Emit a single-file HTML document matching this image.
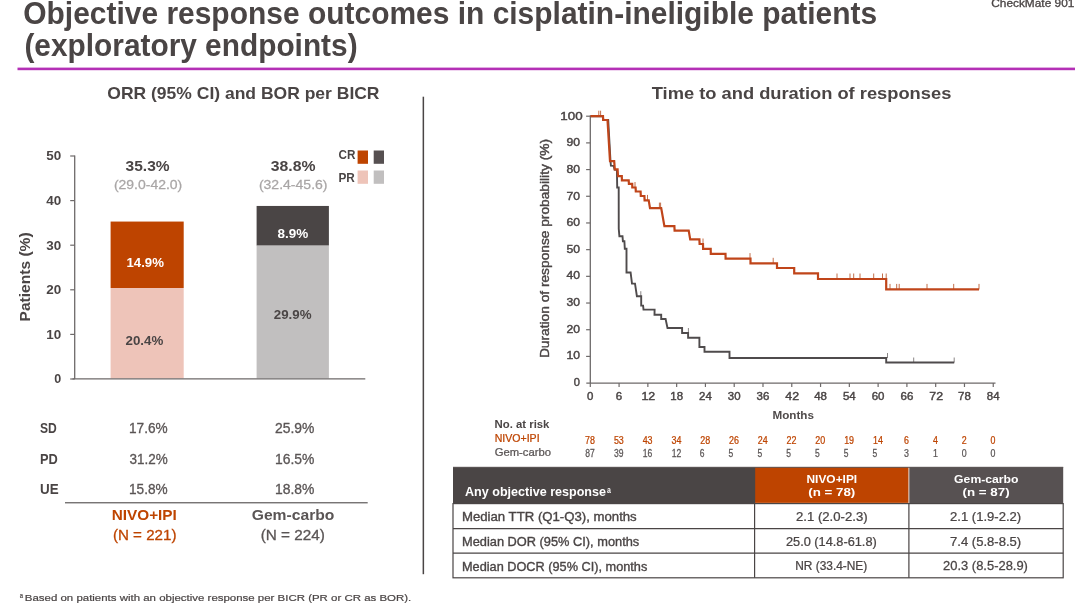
<!DOCTYPE html>
<html><head><meta charset="utf-8"><title>Objective response outcomes</title>
<style>
html,body{margin:0;padding:0;background:#ffffff;}
body{width:1080px;height:608px;overflow:hidden;}
svg{display:block;font-family:"Liberation Sans",sans-serif;will-change:transform;}
</style></head>
<body>
<svg width="1080" height="608" viewBox="0 0 1080 608">
<rect x="0" y="0" width="1080" height="608" fill="#ffffff"/>
<text transform="translate(23.22,23.90) scale(0.9827,1)" font-size="30.5" font-weight="bold" fill="#4a4545">Objective response outcomes in cisplatin-ineligible patients</text>
<text transform="translate(24.42,55.50) scale(0.9789,1)" font-size="30.5" font-weight="bold" fill="#4a4545">(exploratory endpoints)</text>
<text transform="translate(991.20,6.90) scale(1.1210,1)" font-size="10.6" fill="#4a4545" stroke="#4a4545" stroke-width="0.3">CheckMate 901</text>
<rect x="17.5" y="67.6" width="1057.5" height="2.6" fill="#b430b6"/>
<text transform="translate(107.30,98.70) scale(1.0124,1)" font-size="17.3" font-weight="bold" fill="#4a4545">ORR (95% CI) and BOR per BICR</text>
<text transform="translate(651.70,98.70) scale(1.0591,1)" font-size="17.3" font-weight="bold" fill="#4a4545">Time to and duration of responses</text>
<rect x="422.6" y="96.7" width="1.5" height="477.5" fill="#4a4545"/>
<rect x="110.6" y="221.56" width="73.1" height="66.45" fill="#be4400"/>
<rect x="110.6" y="288.02" width="73.1" height="90.38" fill="#eec4b9"/>
<rect x="256.6" y="205.95" width="72.3" height="39.69" fill="#4a4545"/>
<rect x="256.6" y="245.65" width="72.3" height="132.75" fill="#c1bfbf"/>
<path d="M74.7 155.40 V379.4 M72.5 378.8 H365.3" stroke="#6e6a6a" stroke-width="1.3" fill="none"/>
<path d="M70.2 379.00 H74.7" stroke="#6e6a6a" stroke-width="1.2"/>
<text transform="translate(54.30,383.45) scale(1.0000,1)" font-size="12.5" font-weight="bold" fill="#4a4545">0</text>
<path d="M70.2 334.40 H74.7" stroke="#6e6a6a" stroke-width="1.2"/>
<text transform="translate(46.30,338.85) scale(1.0751,1)" font-size="12.5" font-weight="bold" fill="#4a4545">10</text>
<path d="M70.2 289.80 H74.7" stroke="#6e6a6a" stroke-width="1.2"/>
<text transform="translate(46.30,294.25) scale(1.0751,1)" font-size="12.5" font-weight="bold" fill="#4a4545">20</text>
<path d="M70.2 245.20 H74.7" stroke="#6e6a6a" stroke-width="1.2"/>
<text transform="translate(46.30,249.65) scale(1.0751,1)" font-size="12.5" font-weight="bold" fill="#4a4545">30</text>
<path d="M70.2 200.60 H74.7" stroke="#6e6a6a" stroke-width="1.2"/>
<text transform="translate(46.30,205.05) scale(1.0751,1)" font-size="12.5" font-weight="bold" fill="#4a4545">40</text>
<path d="M70.2 156.00 H74.7" stroke="#6e6a6a" stroke-width="1.2"/>
<text transform="translate(46.30,160.45) scale(1.0751,1)" font-size="12.5" font-weight="bold" fill="#4a4545">50</text>
<text transform="translate(29.90,276.80) rotate(-90) translate(-44.60,0.00) scale(1.0662,1)" font-size="14.6" font-weight="bold" fill="#4a4545">Patients (%)</text>
<text transform="translate(125.60,170.50) scale(1.0932,1)" font-size="14.2" font-weight="bold" fill="#4a4545">35.3%</text>
<text transform="translate(113.90,189.10) scale(1.1013,1)" font-size="12.7" fill="#a9a6a6" stroke="#a9a6a6" stroke-width="0.25">(29.0-42.0)</text>
<text transform="translate(270.80,170.50) scale(1.1129,1)" font-size="14.2" font-weight="bold" fill="#4a4545">38.8%</text>
<text transform="translate(258.90,189.10) scale(1.1045,1)" font-size="12.7" fill="#a9a6a6" stroke="#a9a6a6" stroke-width="0.25">(32.4-45.6)</text>
<text transform="translate(126.50,266.50) scale(1.0160,1)" font-size="13" font-weight="bold" fill="#ffffff">14.9%</text>
<text transform="translate(125.50,345.00) scale(1.0254,1)" font-size="13" font-weight="bold" fill="#4a4545">20.4%</text>
<text transform="translate(277.50,237.50) scale(1.0392,1)" font-size="13" font-weight="bold" fill="#ffffff">8.9%</text>
<text transform="translate(273.75,318.75) scale(1.0254,1)" font-size="13" font-weight="bold" fill="#4a4545">29.9%</text>
<text transform="translate(338.50,159.20) scale(0.9508,1)" font-size="12.3" font-weight="bold" fill="#4a4545">CR</text>
<text transform="translate(338.50,181.90) scale(0.9592,1)" font-size="12.3" font-weight="bold" fill="#4a4545">PR</text>
<rect x="357.6" y="150.5" width="10.4" height="13.3" fill="#be4400"/>
<rect x="373.7" y="150.5" width="10.3" height="13.3" fill="#565051"/>
<rect x="357.6" y="170.5" width="10.4" height="13.3" fill="#eec4b9"/>
<rect x="373.7" y="170.5" width="10.3" height="13.3" fill="#c1bfbf"/>
<text transform="translate(40.00,433.30) scale(0.8636,1)" font-size="14" font-weight="bold" fill="#4a4545">SD</text>
<text transform="translate(129.02,433.30) scale(0.9752,1)" font-size="14" fill="#5a5555" stroke="#5a5555" stroke-width="0.3">17.6%</text>
<text transform="translate(275.00,433.30) scale(0.9937,1)" font-size="14" fill="#5a5555" stroke="#5a5555" stroke-width="0.3">25.9%</text>
<text transform="translate(40.00,464.30) scale(0.9153,1)" font-size="14" font-weight="bold" fill="#4a4545">PD</text>
<text transform="translate(129.50,464.30) scale(0.9631,1)" font-size="14" fill="#5a5555" stroke="#5a5555" stroke-width="0.3">31.2%</text>
<text transform="translate(275.01,464.30) scale(0.9935,1)" font-size="14" fill="#5a5555" stroke="#5a5555" stroke-width="0.3">16.5%</text>
<text transform="translate(40.00,494.40) scale(0.9576,1)" font-size="14" font-weight="bold" fill="#4a4545">UE</text>
<text transform="translate(129.02,494.40) scale(0.9752,1)" font-size="14" fill="#5a5555" stroke="#5a5555" stroke-width="0.3">15.8%</text>
<text transform="translate(275.01,494.40) scale(0.9935,1)" font-size="14" fill="#5a5555" stroke="#5a5555" stroke-width="0.3">18.8%</text>
<rect x="65" y="502.1" width="302.7" height="1.3" fill="#6a6666"/>
<text transform="translate(111.68,520.00) scale(1.0223,1)" font-size="15" font-weight="bold" fill="#be4400">NIVO+IPI</text>
<text transform="translate(112.90,539.60) scale(1.0103,1)" font-size="15" fill="#be4400" stroke="#be4400" stroke-width="0.3">(N = 221)</text>
<text transform="translate(251.70,520.00) scale(1.0452,1)" font-size="15" font-weight="bold" fill="#5a5555">Gem-carbo</text>
<text transform="translate(260.70,539.60) scale(1.0215,1)" font-size="15" fill="#5a5555" stroke="#5a5555" stroke-width="0.3">(N = 224)</text>
<text transform="translate(19.70,598.40) scale(0.7800,1)" font-size="7.5" fill="#4a4545" stroke="#4a4545" stroke-width="0.2">a</text>
<text transform="translate(24.80,601.10) scale(1.1698,1)" font-size="9.8" fill="#4a4545" stroke="#4a4545" stroke-width="0.2">Based on patients with an objective response per BICR (PR or CR as BOR).</text>
<path d="M590.3 115.6 V383.1 M586.3 383.1 H995.5" stroke="#6e6a6a" stroke-width="1.3" fill="none"/>
<path d="M586.1 356.41 H590.3" stroke="#6e6a6a" stroke-width="1.2"/>
<path d="M586.1 329.72 H590.3" stroke="#6e6a6a" stroke-width="1.2"/>
<path d="M586.1 303.03 H590.3" stroke="#6e6a6a" stroke-width="1.2"/>
<path d="M586.1 276.34 H590.3" stroke="#6e6a6a" stroke-width="1.2"/>
<path d="M586.1 249.65 H590.3" stroke="#6e6a6a" stroke-width="1.2"/>
<path d="M586.1 222.96 H590.3" stroke="#6e6a6a" stroke-width="1.2"/>
<path d="M586.1 196.27 H590.3" stroke="#6e6a6a" stroke-width="1.2"/>
<path d="M586.1 169.58 H590.3" stroke="#6e6a6a" stroke-width="1.2"/>
<path d="M586.1 142.89 H590.3" stroke="#6e6a6a" stroke-width="1.2"/>
<path d="M586.1 116.20 H590.3" stroke="#6e6a6a" stroke-width="1.2"/>
<text transform="translate(573.70,385.90) scale(0.9429,1)" font-size="11.8" fill="#4a4545" stroke="#4a4545" stroke-width="0.45">0</text>
<text transform="translate(566.60,359.28) scale(1.0324,1)" font-size="11.8" fill="#4a4545" stroke="#4a4545" stroke-width="0.45">10</text>
<text transform="translate(566.60,332.66) scale(1.0324,1)" font-size="11.8" fill="#4a4545" stroke="#4a4545" stroke-width="0.45">20</text>
<text transform="translate(566.60,306.04) scale(1.0324,1)" font-size="11.8" fill="#4a4545" stroke="#4a4545" stroke-width="0.45">30</text>
<text transform="translate(566.60,279.42) scale(1.0324,1)" font-size="11.8" fill="#4a4545" stroke="#4a4545" stroke-width="0.45">40</text>
<text transform="translate(566.60,252.80) scale(1.0324,1)" font-size="11.8" fill="#4a4545" stroke="#4a4545" stroke-width="0.45">50</text>
<text transform="translate(566.60,226.18) scale(1.0324,1)" font-size="11.8" fill="#4a4545" stroke="#4a4545" stroke-width="0.45">60</text>
<text transform="translate(566.60,199.56) scale(1.0324,1)" font-size="11.8" fill="#4a4545" stroke="#4a4545" stroke-width="0.45">70</text>
<text transform="translate(566.60,172.94) scale(1.0324,1)" font-size="11.8" fill="#4a4545" stroke="#4a4545" stroke-width="0.45">80</text>
<text transform="translate(566.60,146.32) scale(1.0324,1)" font-size="11.8" fill="#4a4545" stroke="#4a4545" stroke-width="0.45">90</text>
<text transform="translate(560.30,119.70) scale(1.1331,1)" font-size="11.8" fill="#4a4545" stroke="#4a4545" stroke-width="0.45">100</text>
<path d="M590.30 383.1 V387" stroke="#6e6a6a" stroke-width="1.2"/>
<text transform="translate(586.90,400.00) scale(0.9714,1)" font-size="11.8" fill="#4a4545" stroke="#4a4545" stroke-width="0.45">0</text>
<path d="M619.08 383.1 V387" stroke="#6e6a6a" stroke-width="1.2"/>
<text transform="translate(615.68,400.00) scale(0.9714,1)" font-size="11.8" fill="#4a4545" stroke="#4a4545" stroke-width="0.45">6</text>
<path d="M647.86 383.1 V387" stroke="#6e6a6a" stroke-width="1.2"/>
<text transform="translate(641.46,400.00) scale(1.0509,1)" font-size="11.8" fill="#4a4545" stroke="#4a4545" stroke-width="0.45">12</text>
<path d="M676.65 383.1 V387" stroke="#6e6a6a" stroke-width="1.2"/>
<text transform="translate(670.25,400.00) scale(0.9734,1)" font-size="11.8" fill="#4a4545" stroke="#4a4545" stroke-width="0.45">18</text>
<path d="M705.43 383.1 V387" stroke="#6e6a6a" stroke-width="1.2"/>
<text transform="translate(699.03,400.00) scale(0.9734,1)" font-size="11.8" fill="#4a4545" stroke="#4a4545" stroke-width="0.45">24</text>
<path d="M734.21 383.1 V387" stroke="#6e6a6a" stroke-width="1.2"/>
<text transform="translate(727.81,400.00) scale(0.9734,1)" font-size="11.8" fill="#4a4545" stroke="#4a4545" stroke-width="0.45">30</text>
<path d="M762.99 383.1 V387" stroke="#6e6a6a" stroke-width="1.2"/>
<text transform="translate(756.59,400.00) scale(0.9734,1)" font-size="11.8" fill="#4a4545" stroke="#4a4545" stroke-width="0.45">36</text>
<path d="M791.77 383.1 V387" stroke="#6e6a6a" stroke-width="1.2"/>
<text transform="translate(785.37,400.00) scale(1.0509,1)" font-size="11.8" fill="#4a4545" stroke="#4a4545" stroke-width="0.45">42</text>
<path d="M820.56 383.1 V387" stroke="#6e6a6a" stroke-width="1.2"/>
<text transform="translate(814.16,400.00) scale(0.9734,1)" font-size="11.8" fill="#4a4545" stroke="#4a4545" stroke-width="0.45">48</text>
<path d="M849.34 383.1 V387" stroke="#6e6a6a" stroke-width="1.2"/>
<text transform="translate(842.94,400.00) scale(0.9734,1)" font-size="11.8" fill="#4a4545" stroke="#4a4545" stroke-width="0.45">54</text>
<path d="M878.12 383.1 V387" stroke="#6e6a6a" stroke-width="1.2"/>
<text transform="translate(871.72,400.00) scale(0.9734,1)" font-size="11.8" fill="#4a4545" stroke="#4a4545" stroke-width="0.45">60</text>
<path d="M906.90 383.1 V387" stroke="#6e6a6a" stroke-width="1.2"/>
<text transform="translate(900.50,400.00) scale(0.9734,1)" font-size="11.8" fill="#4a4545" stroke="#4a4545" stroke-width="0.45">66</text>
<path d="M935.68 383.1 V387" stroke="#6e6a6a" stroke-width="1.2"/>
<text transform="translate(929.28,400.00) scale(1.0509,1)" font-size="11.8" fill="#4a4545" stroke="#4a4545" stroke-width="0.45">72</text>
<path d="M964.47 383.1 V387" stroke="#6e6a6a" stroke-width="1.2"/>
<text transform="translate(958.07,400.00) scale(0.9734,1)" font-size="11.8" fill="#4a4545" stroke="#4a4545" stroke-width="0.45">78</text>
<path d="M993.25 383.1 V387" stroke="#6e6a6a" stroke-width="1.2"/>
<text transform="translate(986.85,400.00) scale(0.9734,1)" font-size="11.8" fill="#4a4545" stroke="#4a4545" stroke-width="0.45">84</text>
<text transform="translate(772.40,419.10) scale(0.9912,1)" font-size="11.8" font-weight="bold" fill="#504b4b">Months</text>
<text transform="translate(548.80,248.40) rotate(-90) translate(-109.70,0.00) scale(1.1461,1)" font-size="12" fill="#4a4545" stroke="#4a4545" stroke-width="0.4">Duration of response probability (%)</text>
<path d="M640.80 296.20 v-5" stroke="#8a8686" stroke-width="1"/>
<path d="M688.40 333.00 v-5" stroke="#8a8686" stroke-width="1"/>
<path d="M887.50 358.00 v-5" stroke="#8a8686" stroke-width="1"/>
<path d="M913.70 362.50 v-5" stroke="#8a8686" stroke-width="1"/>
<path d="M954.20 362.50 v-5" stroke="#8a8686" stroke-width="1"/>
<path d="M590.50 116.20 L603.00 116.20 L603.20 120.00 L608.20 120.00 L610.50 161.20 L610.90 165.60 L613.60 165.80 L614.60 169.60 L616.90 169.80 L617.20 187.50 L618.70 187.50 L618.75 228.80 L619.40 236.20 L622.50 236.20 L622.90 241.20 L624.40 241.20 L624.80 248.80 L626.50 248.80 L626.50 272.50 L630.60 272.50 L632.00 283.60 L635.00 283.60 L636.90 296.20 L641.20 296.20 L641.20 305.60 L643.10 305.60 L643.50 309.60 L654.60 309.60 L654.50 314.80 L661.20 314.80 L661.20 319.00 L665.60 319.00 L667.50 328.00 L682.10 328.00 L682.10 333.00 L688.10 333.00 L688.10 337.80 L699.40 337.80 L699.40 347.00 L704.50 347.00 L704.50 351.80 L729.50 351.80 L729.50 358.00 L886.20 358.00 L886.20 362.50 L954.20 362.50" stroke="#4f4b4c" stroke-width="1.9" fill="none" stroke-linejoin="miter"/>
<path d="M598.80 116.20 v-5.5" stroke="#c26f4a" stroke-width="1"/>
<path d="M600.60 116.20 v-5.5" stroke="#c26f4a" stroke-width="1"/>
<path d="M635.00 187.50 v-5.5" stroke="#c26f4a" stroke-width="1"/>
<path d="M647.50 200.40 v-5.5" stroke="#c26f4a" stroke-width="1"/>
<path d="M659.40 208.10 v-5.5" stroke="#c26f4a" stroke-width="1"/>
<path d="M660.60 208.10 v-5.5" stroke="#c26f4a" stroke-width="1"/>
<path d="M703.00 244.00 v-5.5" stroke="#c26f4a" stroke-width="1"/>
<path d="M750.00 258.60 v-5.5" stroke="#c26f4a" stroke-width="1"/>
<path d="M773.20 263.30 v-5.5" stroke="#c26f4a" stroke-width="1"/>
<path d="M837.00 279.00 v-5.5" stroke="#c26f4a" stroke-width="1"/>
<path d="M850.00 279.00 v-5.5" stroke="#c26f4a" stroke-width="1"/>
<path d="M853.70 279.00 v-5.5" stroke="#c26f4a" stroke-width="1"/>
<path d="M860.00 279.00 v-5.5" stroke="#c26f4a" stroke-width="1"/>
<path d="M873.70 279.00 v-5.5" stroke="#c26f4a" stroke-width="1"/>
<path d="M882.50 279.00 v-5.5" stroke="#c26f4a" stroke-width="1"/>
<path d="M886.20 279.00 v-5.5" stroke="#c26f4a" stroke-width="1"/>
<path d="M890.00 289.40 v-5.5" stroke="#c26f4a" stroke-width="1"/>
<path d="M896.70 289.40 v-5.5" stroke="#c26f4a" stroke-width="1"/>
<path d="M899.20 289.40 v-5.5" stroke="#c26f4a" stroke-width="1"/>
<path d="M927.00 289.40 v-5.5" stroke="#c26f4a" stroke-width="1"/>
<path d="M953.70 289.40 v-5.5" stroke="#c26f4a" stroke-width="1"/>
<path d="M979.00 289.40 v-5.5" stroke="#c26f4a" stroke-width="1"/>
<path d="M590.50 116.20 L603.00 116.20 L603.20 120.00 L607.50 120.00 L610.00 161.20 L614.20 161.20 L614.80 169.40 L617.60 169.40 L618.00 176.20 L621.80 176.20 L621.90 180.40 L628.70 180.40 L628.90 183.80 L632.20 183.80 L632.30 187.50 L635.60 187.50 L635.80 191.50 L640.60 191.50 L640.80 196.00 L644.40 196.00 L644.60 200.40 L648.70 200.40 L650.00 208.10 L661.20 208.10 L664.40 226.20 L674.40 226.20 L674.60 230.60 L688.70 230.60 L690.20 239.40 L699.40 239.40 L699.60 244.00 L703.00 244.00 L703.10 248.80 L710.70 248.80 L710.80 253.80 L725.50 253.80 L725.60 258.60 L750.50 258.60 L750.50 263.30 L777.00 263.30 L777.00 268.00 L794.20 268.00 L794.20 273.30 L818.00 273.30 L818.00 279.00 L886.20 279.00 L886.20 289.40 L979.00 289.40" stroke="#c0451a" stroke-width="2.2" fill="none" stroke-linejoin="miter"/>
<text transform="translate(494.50,428.25) scale(1.0527,1)" font-size="10.8" font-weight="bold" fill="#4a4545">No. at risk</text>
<text transform="translate(494.70,442.00) scale(1.0075,1)" font-size="10.5" fill="#be4400" stroke="#be4400" stroke-width="0.25">NIVO+IPI</text>
<text transform="translate(494.70,456.25) scale(1.0735,1)" font-size="10.5" fill="#5a5555" stroke="#5a5555" stroke-width="0.25">Gem-carbo</text>
<text transform="translate(585.10,443.75) scale(0.8744,1)" font-size="10.2" fill="#be4400" stroke="#be4400" stroke-width="0.25">78</text>
<text transform="translate(585.30,457.00) scale(0.8401,1)" font-size="10.2" fill="#5a5555" stroke="#5a5555" stroke-width="0.25">87</text>
<text transform="translate(613.88,443.75) scale(0.8744,1)" font-size="10.2" fill="#be4400" stroke="#be4400" stroke-width="0.25">53</text>
<text transform="translate(614.08,457.00) scale(0.8401,1)" font-size="10.2" fill="#5a5555" stroke="#5a5555" stroke-width="0.25">39</text>
<text transform="translate(642.66,443.75) scale(0.8744,1)" font-size="10.2" fill="#be4400" stroke="#be4400" stroke-width="0.25">43</text>
<text transform="translate(642.86,457.00) scale(0.8401,1)" font-size="10.2" fill="#5a5555" stroke="#5a5555" stroke-width="0.25">16</text>
<text transform="translate(671.45,443.75) scale(0.8744,1)" font-size="10.2" fill="#be4400" stroke="#be4400" stroke-width="0.25">34</text>
<text transform="translate(671.65,457.00) scale(0.8401,1)" font-size="10.2" fill="#5a5555" stroke="#5a5555" stroke-width="0.25">12</text>
<text transform="translate(700.23,443.75) scale(0.8744,1)" font-size="10.2" fill="#be4400" stroke="#be4400" stroke-width="0.25">28</text>
<text transform="translate(699.83,457.00) scale(0.8333,1)" font-size="10.2" fill="#5a5555" stroke="#5a5555" stroke-width="0.25">6</text>
<text transform="translate(729.01,443.75) scale(0.8744,1)" font-size="10.2" fill="#be4400" stroke="#be4400" stroke-width="0.25">26</text>
<text transform="translate(728.61,457.00) scale(0.8333,1)" font-size="10.2" fill="#5a5555" stroke="#5a5555" stroke-width="0.25">5</text>
<text transform="translate(757.79,443.75) scale(0.8744,1)" font-size="10.2" fill="#be4400" stroke="#be4400" stroke-width="0.25">24</text>
<text transform="translate(757.39,457.00) scale(0.8333,1)" font-size="10.2" fill="#5a5555" stroke="#5a5555" stroke-width="0.25">5</text>
<text transform="translate(786.57,443.75) scale(0.8744,1)" font-size="10.2" fill="#be4400" stroke="#be4400" stroke-width="0.25">22</text>
<text transform="translate(786.17,457.00) scale(0.8333,1)" font-size="10.2" fill="#5a5555" stroke="#5a5555" stroke-width="0.25">5</text>
<text transform="translate(815.36,443.75) scale(0.8744,1)" font-size="10.2" fill="#be4400" stroke="#be4400" stroke-width="0.25">20</text>
<text transform="translate(814.96,457.00) scale(0.8333,1)" font-size="10.2" fill="#5a5555" stroke="#5a5555" stroke-width="0.25">5</text>
<text transform="translate(844.14,443.75) scale(0.8744,1)" font-size="10.2" fill="#be4400" stroke="#be4400" stroke-width="0.25">19</text>
<text transform="translate(843.74,457.00) scale(0.8333,1)" font-size="10.2" fill="#5a5555" stroke="#5a5555" stroke-width="0.25">5</text>
<text transform="translate(872.92,443.75) scale(0.8744,1)" font-size="10.2" fill="#be4400" stroke="#be4400" stroke-width="0.25">14</text>
<text transform="translate(872.52,457.00) scale(0.8333,1)" font-size="10.2" fill="#5a5555" stroke="#5a5555" stroke-width="0.25">5</text>
<text transform="translate(904.10,443.75) scale(0.8667,1)" font-size="10.2" fill="#be4400" stroke="#be4400" stroke-width="0.25">6</text>
<text transform="translate(904.10,457.00) scale(0.8667,1)" font-size="10.2" fill="#5a5555" stroke="#5a5555" stroke-width="0.25">3</text>
<text transform="translate(932.88,443.75) scale(0.8667,1)" font-size="10.2" fill="#be4400" stroke="#be4400" stroke-width="0.25">4</text>
<text transform="translate(932.88,457.00) scale(0.8667,1)" font-size="10.2" fill="#5a5555" stroke="#5a5555" stroke-width="0.25">1</text>
<text transform="translate(961.67,443.75) scale(0.8667,1)" font-size="10.2" fill="#be4400" stroke="#be4400" stroke-width="0.25">2</text>
<text transform="translate(961.67,457.00) scale(0.8667,1)" font-size="10.2" fill="#5a5555" stroke="#5a5555" stroke-width="0.25">0</text>
<text transform="translate(990.45,443.75) scale(0.8667,1)" font-size="10.2" fill="#be4400" stroke="#be4400" stroke-width="0.25">0</text>
<text transform="translate(990.45,457.00) scale(0.8667,1)" font-size="10.2" fill="#5a5555" stroke="#5a5555" stroke-width="0.25">0</text>
<rect x="453.0" y="467.0" width="301.6" height="36.60000000000002" fill="#4a4545"/>
<rect x="754.6" y="467.0" width="154.29999999999995" height="36.60000000000002" fill="#be4400"/>
<rect x="908.9" y="467.0" width="154.30000000000007" height="36.60000000000002" fill="#575152"/>
<path d="M908.9 467.0 V503.6" stroke="#f0e4dc" stroke-width="0.9"/>
<path d="M754.6 467.0 V503.6" stroke="#4a4545" stroke-width="1.2"/>
<path d="M453.0 467.3 H1063.2" stroke="#5e5858" stroke-width="1"/>
<path d="M755.2 503.3 H908.9" stroke="#e9cfc2" stroke-width="0.8"/>
<rect x="453.0" y="503.6" width="610.2" height="74.19999999999993" fill="#ffffff" stroke="#4a4545" stroke-width="1.2"/>
<path d="M453.0 528.7 H1063.2 M453.0 553.2 H1063.2 M754.6 503.6 V577.8 M908.9 503.6 V577.8" stroke="#4a4545" stroke-width="1.2" fill="none"/>
<text transform="translate(465.00,496.25) scale(1.0307,1)" font-size="12.2" font-weight="bold" fill="#ffffff">Any objective response</text>
<text transform="translate(606.90,493.00) scale(0.8200,1)" font-size="8.5" font-weight="bold" fill="#ffffff">a</text>
<text transform="translate(806.50,482.60) scale(1.0105,1)" font-size="11.8" font-weight="bold" fill="#ffffff">NIVO+IPI</text>
<text transform="translate(808.20,496.20) scale(1.1319,1)" font-size="11.8" font-weight="bold" fill="#ffffff">(n = 78)</text>
<text transform="translate(954.10,482.60) scale(1.0343,1)" font-size="11.8" font-weight="bold" fill="#ffffff">Gem-carbo</text>
<text transform="translate(962.50,496.20) scale(1.1319,1)" font-size="11.8" font-weight="bold" fill="#ffffff">(n = 87)</text>
<text transform="translate(462.00,521.20) scale(1.0898,1)" font-size="12.1" fill="#4a4545" stroke="#4a4545" stroke-width="0.35">Median TTR (Q1-Q3), months</text>
<text transform="translate(796.00,521.00) scale(1.0953,1)" font-size="12" fill="#4a4545" stroke="#4a4545" stroke-width="0.25">2.1 (2.0-2.3)</text>
<text transform="translate(950.10,521.00) scale(1.0892,1)" font-size="12" fill="#4a4545" stroke="#4a4545" stroke-width="0.25">2.1 (1.9-2.2)</text>
<text transform="translate(462.00,546.00) scale(1.0594,1)" font-size="12.1" fill="#4a4545" stroke="#4a4545" stroke-width="0.35">Median DOR (95% CI), months</text>
<text transform="translate(786.00,545.80) scale(1.0633,1)" font-size="12" fill="#4a4545" stroke="#4a4545" stroke-width="0.25">25.0 (14.8-61.8)</text>
<text transform="translate(950.10,545.80) scale(1.0892,1)" font-size="12" fill="#4a4545" stroke="#4a4545" stroke-width="0.25">7.4 (5.8-8.5)</text>
<text transform="translate(462.00,570.60) scale(1.0537,1)" font-size="12.1" fill="#4a4545" stroke="#4a4545" stroke-width="0.35">Median DOCR (95% CI), months</text>
<text transform="translate(795.20,570.40) scale(0.9933,1)" font-size="12" fill="#4a4545" stroke="#4a4545" stroke-width="0.25">NR (33.4-NE)</text>
<text transform="translate(943.10,570.40) scale(1.0785,1)" font-size="12" fill="#4a4545" stroke="#4a4545" stroke-width="0.25">20.3 (8.5-28.9)</text>
</svg>
</body></html>
